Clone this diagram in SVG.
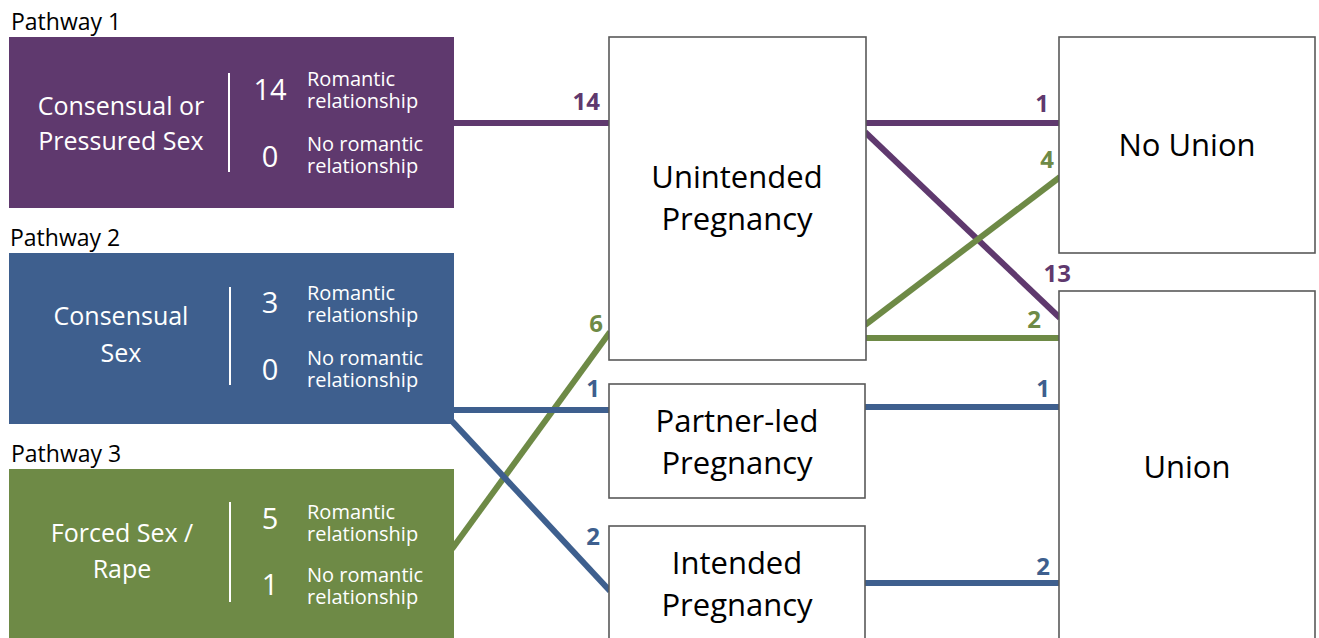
<svg xmlns="http://www.w3.org/2000/svg" width="1319" height="638" viewBox="0 0 1319 638">
<style>
text{font-family:"Open Sans","Noto Sans","Liberation Sans",sans-serif}
.pw{font-size:23px;fill:#000}
.main{font-size:25px;fill:#fff;text-anchor:middle}
.num{font-size:29px;fill:#fff;text-anchor:middle}
.rel{font-size:20px;fill:#fff}
.div{stroke:#fff;stroke-width:2}
.box{fill:#fff;stroke:#595959;stroke-width:1.6}
.bt{font-size:31px;fill:#000;text-anchor:middle}
.lbl{font-size:24px;font-weight:bold;text-anchor:end}
.c{stroke-width:6;fill:none}
.p{stroke:#5f396e}.g{stroke:#6e8a46}.b{stroke:#3e5f8e}
.lp{fill:#5f396e}.lg{fill:#6e8a46}.lb{fill:#3e5f8e}
</style>
<rect width="1319" height="638" fill="#fff"/>
<g id="connectors">
<line class="c p" x1="452" y1="123" x2="610" y2="123"/>
<line class="c p" x1="865" y1="123" x2="1060" y2="123"/>
<line class="c p" x1="865" y1="132" x2="1060" y2="318"/>
<line class="c g" x1="452" y1="549" x2="610" y2="332"/>
<line class="c g" x1="865" y1="325" x2="1060" y2="177"/>
<line class="c g" x1="865" y1="338" x2="1060" y2="338"/>
<line class="c b" x1="452" y1="410" x2="610" y2="410"/>
<line class="c b" x1="450" y1="419" x2="610" y2="591"/>
<line class="c b" x1="865" y1="407" x2="1060" y2="407"/>
<line class="c b" x1="865" y1="583" x2="1060" y2="583"/>
<text class="lbl lp" x="600" y="110">14</text>
<text class="lbl lg" x="603" y="332">6</text>
<text class="lbl lb" x="600" y="397">1</text>
<text class="lbl lb" x="600" y="545">2</text>
<text class="lbl lp" x="1049" y="112">1</text>
<text class="lbl lg" x="1054" y="168">4</text>
<text class="lbl lp" x="1071" y="282">13</text>
<text class="lbl lg" x="1041" y="328">2</text>
<text class="lbl lb" x="1050" y="397">1</text>
<text class="lbl lb" x="1050" y="575">2</text>
</g>
<g id="pathway1">
<text class="pw" x="11" y="30">Pathway 1</text>
<rect x="9" y="37" width="445" height="171" fill="#5f396e"/>
<text class="main" x="121" y="115">Consensual or</text>
<text class="main" x="121" y="150">Pressured Sex</text>
<line class="div" x1="229" y1="73" x2="229" y2="172"/>
<text class="num" x="270" y="100">14</text>
<text class="num" x="270" y="167">0</text>
<text class="rel" x="307" y="86">Romantic</text>
<text class="rel" x="307" y="108">relationship</text>
<text class="rel" x="307" y="151">No romantic</text>
<text class="rel" x="307" y="173">relationship</text>
</g>
<g id="pathway2">
<text class="pw" x="10" y="246">Pathway 2</text>
<rect x="9" y="253" width="445" height="171" fill="#3e5f8e"/>
<text class="main" x="121" y="325">Consensual</text>
<text class="main" x="121" y="362">Sex</text>
<line class="div" x1="230" y1="287" x2="230" y2="385"/>
<text class="num" x="270" y="313">3</text>
<text class="num" x="270" y="380">0</text>
<text class="rel" x="307" y="300">Romantic</text>
<text class="rel" x="307" y="322">relationship</text>
<text class="rel" x="307" y="365">No romantic</text>
<text class="rel" x="307" y="387">relationship</text>
</g>
<g id="pathway3">
<text class="pw" x="11" y="462">Pathway 3</text>
<rect x="9" y="469" width="445" height="175" fill="#6e8a46"/>
<text class="main" x="122" y="542">Forced Sex /</text>
<text class="main" x="122" y="578">Rape</text>
<line class="div" x1="230" y1="502" x2="230" y2="602"/>
<text class="num" x="270" y="529">5</text>
<text class="num" x="270" y="595">1</text>
<text class="rel" x="307" y="519">Romantic</text>
<text class="rel" x="307" y="541">relationship</text>
<text class="rel" x="307" y="582">No romantic</text>
<text class="rel" x="307" y="604">relationship</text>
</g>
<g id="unintended">
<rect class="box" x="609" y="37" width="257" height="323"/>
<text class="bt" x="737" y="188">Unintended</text>
<text class="bt" x="737" y="230">Pregnancy</text>
</g>
<g id="partnerled">
<rect class="box" x="609" y="384" width="256" height="114"/>
<text class="bt" x="737" y="432">Partner-led</text>
<text class="bt" x="737" y="474">Pregnancy</text>
</g>
<g id="intended">
<rect class="box" x="609" y="526" width="256" height="120"/>
<text class="bt" x="737" y="574">Intended</text>
<text class="bt" x="737" y="616">Pregnancy</text>
</g>
<g id="nounion">
<rect class="box" x="1059" y="37" width="256" height="216"/>
<text class="bt" x="1187" y="156">No Union</text>
</g>
<g id="union">
<rect class="box" x="1059" y="291" width="256" height="355"/>
<text class="bt" x="1187" y="478">Union</text>
</g>
</svg>
